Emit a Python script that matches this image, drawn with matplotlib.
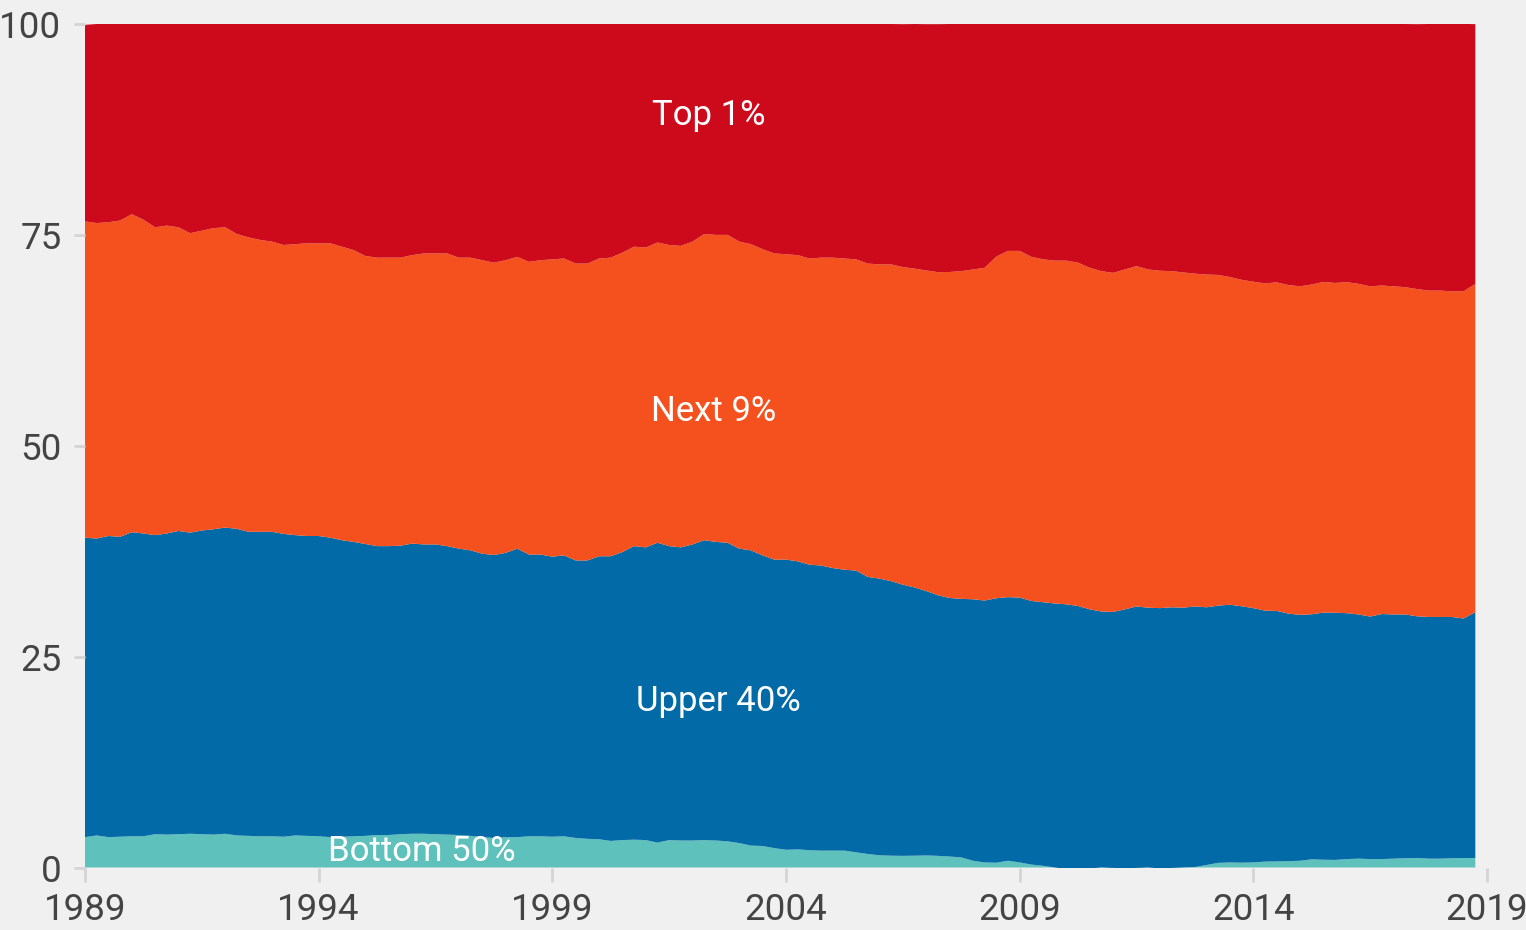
import numpy as np
import matplotlib
matplotlib.use('Agg')
import matplotlib.pyplot as plt

# quarterly wealth shares (%), 1989 Q1 .. 2018 Q4
bottom_50 = [3.6, 3.8, 3.6, 3.65, 3.7, 3.7, 3.95, 3.9, 3.95, 4.0,
             3.95, 3.9, 4.0, 3.8, 3.75, 3.7, 3.7, 3.65, 3.8, 3.75,
             3.7, 3.6, 3.65, 3.7, 3.75, 3.85, 3.85, 3.95, 4.0, 4.0,
             3.95, 3.9, 3.85, 3.75, 3.6, 3.5, 3.6, 3.6, 3.7, 3.7,
             3.65, 3.7, 3.5, 3.4, 3.35, 3.15, 3.25, 3.3, 3.25, 2.95,
             3.25, 3.2, 3.2, 3.25, 3.2, 3.1, 2.9, 2.6, 2.55, 2.3,
             2.1, 2.15, 2.05, 2.0, 2.0, 2.0, 1.8, 1.6, 1.45, 1.4,
             1.38, 1.4, 1.43, 1.38, 1.3, 1.2, 0.8, 0.6, 0.57, 0.8,
             0.6, 0.35, 0.2, 0.0, -0.15, -0.2, -0.1, 0.0, -0.05, -0.1,
             -0.05, 0.0, -0.1, -0.05, 0.0, 0.05, 0.3, 0.55, 0.6, 0.57,
             0.6, 0.7, 0.72, 0.75, 0.8, 0.97, 0.92, 0.9, 1.0, 1.05,
             1.0, 1.0, 1.05, 1.1, 1.13, 1.05, 1.05, 1.1, 1.12, 1.13]

upper_40 = [35.5, 35.2, 35.7, 35.55, 36.05, 35.9, 35.45, 35.7, 35.95, 35.7,
            36.0, 36.2, 36.3, 36.35, 36.05, 36.1, 36.1, 35.9, 35.6, 35.55,
            35.6, 35.5, 35.15, 34.9, 34.6, 34.25, 34.25, 34.2, 34.4, 34.3,
            34.35, 34.2, 33.95, 33.85, 33.6, 33.55, 33.7, 34.2, 33.4, 33.4,
            33.2, 33.3, 32.9, 33.0, 33.55, 33.75, 34.15, 34.8, 34.7, 35.55,
            34.85, 34.75, 35.1, 35.55, 35.4, 35.4, 34.9, 35.0, 34.45, 34.2,
            34.4, 34.15, 33.85, 33.8, 33.5, 33.3, 33.4, 32.85, 32.8, 32.55,
            32.15, 31.8, 31.35, 30.9, 30.65, 30.65, 31.0, 31.05, 31.35, 31.25,
            31.4, 31.25, 31.25, 31.3, 31.35, 31.2, 30.7, 30.35, 30.35, 30.7,
            31.0, 30.8, 30.85, 30.9, 30.8, 30.9, 30.55, 30.5, 30.55, 30.4,
            30.15, 29.75, 29.7, 29.35, 29.15, 29.05, 29.3, 29.3, 29.15, 28.95,
            28.75, 29.05, 28.95, 28.9, 28.65, 28.65, 28.65, 28.6, 28.4, 29.15]

next_9 = [37.5, 37.4, 37.2, 37.5, 37.7, 37.2, 36.5, 36.5, 36.0, 35.5,
          35.55, 35.7, 35.6, 34.95, 34.9, 34.6, 34.4, 34.25, 34.5, 34.7,
          34.7, 34.9, 34.8, 34.6, 34.15, 34.2, 34.2, 34.15, 34.2, 34.5,
          34.5, 34.7, 34.5, 34.7, 34.8, 34.65, 34.7, 34.6, 34.7, 34.9,
          35.25, 35.2, 35.2, 35.2, 35.3, 35.4, 35.5, 35.5, 35.55, 35.6,
          35.7, 35.75, 35.9, 36.3, 36.4, 36.5, 36.4, 36.3, 36.3, 36.3,
          36.2, 36.3, 36.3, 36.5, 36.8, 36.9, 36.9, 37.15, 37.25, 37.55,
          37.65, 37.8, 38.0, 38.3, 38.65, 38.85, 39.1, 39.45, 40.5, 41.05,
          41.1, 40.8, 40.65, 40.65, 40.75, 40.7, 40.5, 40.35, 40.2, 40.3,
          40.35, 40.1, 40.0, 39.85, 39.75, 39.45, 39.45, 39.2, 38.85, 38.7,
          38.7, 38.8, 38.95, 38.95, 38.95, 39.1, 39.2, 39.1, 39.25, 39.2,
          39.15, 38.95, 38.9, 38.8, 38.8, 38.7, 38.7, 38.6, 38.8, 38.9]

top_1 = [23.3, 23.6, 23.5, 23.3, 22.6, 23.2, 24.1, 23.9, 24.1, 24.8,
         24.5, 24.2, 24.1, 24.9, 25.3, 25.6, 25.8, 26.2, 26.1, 26.0,
         26.0, 26.0, 26.4, 26.8, 27.5, 27.7, 27.7, 27.7, 27.4, 27.2,
         27.2, 27.2, 27.7, 27.7, 28.0, 28.3, 28.0, 27.6, 28.2, 28.0,
         27.9, 27.8, 28.4, 28.4, 27.8, 27.7, 27.1, 26.4, 26.5, 25.9,
         26.2, 26.3, 25.8, 24.9, 25.0, 25.0, 25.8, 26.1, 26.7, 27.2,
         27.3, 27.4, 27.8, 27.7, 27.7, 27.8, 27.9, 28.4, 28.5, 28.5,
         28.8, 29.0, 29.2, 29.4, 29.4, 29.3, 29.1, 28.9, 27.6, 26.9,
         26.9, 27.6, 27.9, 28.05, 28.05, 28.3, 28.9, 29.3, 29.5, 29.1,
         28.7, 29.1, 29.25, 29.3, 29.45, 29.6, 29.7, 29.75, 30.0, 30.35,
         30.55, 30.75, 30.65, 30.95, 31.1, 30.9, 30.6, 30.7, 30.6, 30.8,
         31.1, 31.0, 31.1, 31.2, 31.4, 31.6, 31.6, 31.7, 31.7, 30.8]

quarters = 1989 + np.arange(len(top_1)) / 4.0
groups = ['Bottom 50%', 'Upper 40%', 'Next 9%', 'Top 1%']
colors = ['#5ec1bc', '#026aa7', '#f5511e', '#cd0a1c']
year_ticks = [1989, 1994, 1999, 2004, 2009, 2014, 2019]
value_ticks = [0, 25, 50, 75, 100]

bg = '#f0f0f0'
plt.rcParams['font.family'] = ['Roboto', 'DejaVu Sans']

fig = plt.figure(figsize=(15.26, 9.30), dpi=100, facecolor=bg)
ax = fig.add_axes([85 / 1526, 1 - 867.5 / 930, (1487 - 85) / 1526, (867.5 - 24) / 930])
ax.set_facecolor(bg)

ax.stackplot(quarters, bottom_50, upper_40, next_9, top_1, colors=colors,
             linewidth=0, antialiased=True)

ax.set_xlim(1989, 2019)
ax.set_ylim(0, 100)
ax.set_xticks(year_ticks)
ax.set_yticks(value_ticks)
for s in ax.spines.values():
    s.set_visible(False)
ax.tick_params(axis='x', length=10, width=2, color='#d4d4d4', pad=8,
               labelsize=26.5, labelcolor='#444444')
ax.tick_params(axis='y', length=8, width=2, color='#d4d4d4', pad=9,
               labelsize=26.5, labelcolor='#444444')

# group labels inside the areas
label_pos = {'Top 1%': (2002.35, 89.2), 'Next 9%': (2002.45, 54.1),
             'Upper 40%': (2002.55, 19.7), 'Bottom 50%': (1996.2, 1.9)}
for g in groups:
    x, y = label_pos[g]
    ax.text(x, y, g, color='white', fontsize=25, ha='center', va='center')

fig.savefig('out.png', dpi=100, facecolor=bg)
